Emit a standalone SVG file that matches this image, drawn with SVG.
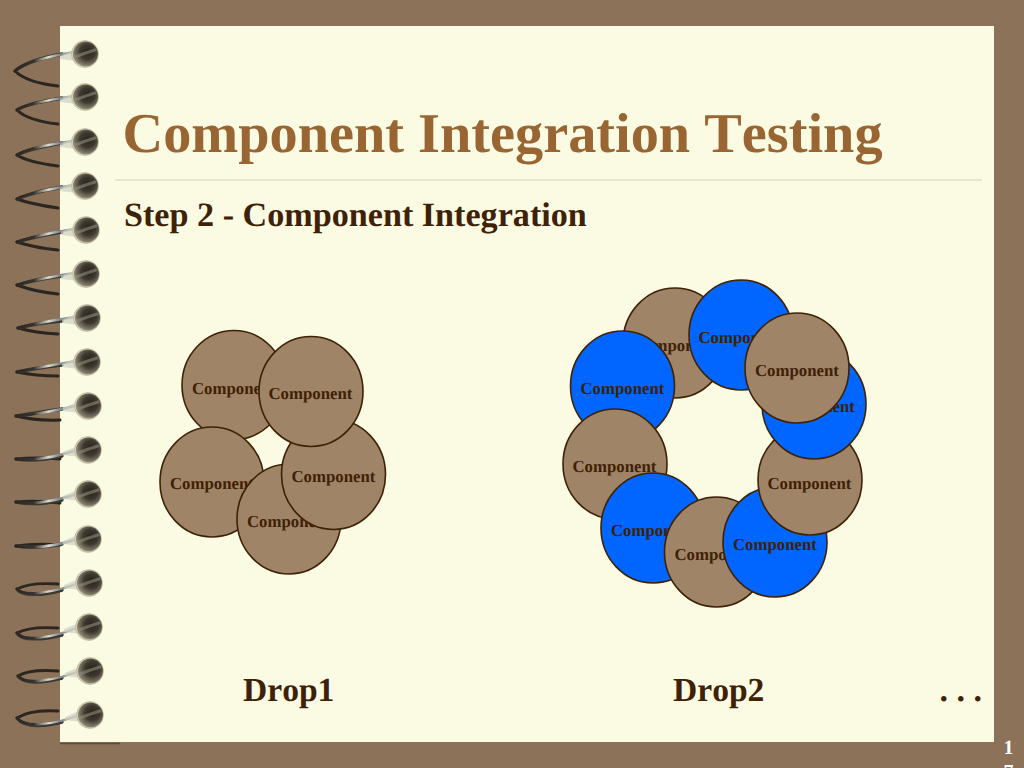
<svg xmlns="http://www.w3.org/2000/svg" xmlns:xlink="http://www.w3.org/1999/xlink" width="1024" height="768" viewBox="0 0 1024 768">
<style>
text{font-family:"Liberation Serif","Times New Roman",serif;font-weight:bold;fill:#3f2206;font-kerning:none;text-rendering:geometricPrecision}
.c{font-size:16.8px}
.h{font-size:33.6px}
.b{fill:#a08468;stroke:#3f2206;stroke-width:1.6}
.u{fill:#0066ff;stroke:#3f2206;stroke-width:1.6}
.back{fill:none;stroke:#2c2621;stroke-width:3;stroke-linecap:round}
.under{fill:none;stroke:#3d3730;stroke-width:3.4;stroke-linecap:round}
.front{fill:none;stroke:url(#wire);stroke-width:2.4;stroke-linecap:round}
</style>
<defs>
<filter id="soft" x="-5%" y="-5%" width="110%" height="110%"><feGaussianBlur stdDeviation=".6"/></filter>
<linearGradient id="wire" gradientUnits="userSpaceOnUse" x1="15" y1="0" x2="82" y2="0">
<stop offset="0" stop-color="#2b2622"/><stop offset=".28" stop-color="#35332f"/><stop offset=".5" stop-color="#dedcd0"/><stop offset=".66" stop-color="#7f8a90"/><stop offset="1" stop-color="#c4c4b4"/>
</linearGradient>
<radialGradient id="ball" cx=".58" cy=".42" r=".65">
<stop offset="0" stop-color="#29241d"/><stop offset=".45" stop-color="#3c372e"/><stop offset=".8" stop-color="#7c7665"/><stop offset="1" stop-color="#a8a38c"/>
</radialGradient>
<g id="bead">
<path d="M-8-5L-25 2L-25 5L-8 7Z" fill="#cfd0c2" opacity=".7"/>
<circle r="13.500" fill="#d6d2b8" stroke="#b3ae92" stroke-width=".6"/>
<circle r="12.500" cx=".5" fill="url(#ball)"/>
<path d="M-10 3Q0-1 10-4" fill="none" stroke="#8f8c79" stroke-width="3" stroke-linecap="round" opacity=".6"/>
</g>
</defs>
<rect width="1024" height="768" fill="#8b7258"/>
<rect x="60" y="26" width="934" height="716" fill="#fbfbe4"/>
<path d="M60 743.500H120" stroke="#5f4c38" stroke-width="1.500" fill="none"/>
<path d="M115 180H982" stroke="#d3d1bd" stroke-width="1" fill="none"/>

<g id="spiral" filter="url(#soft)">
<path class="back" d="M58 86C40 84 24 80 15 71"/><path class="under" d="M15 71C24 63 40 58 62 54"/><path class="front" d="M15 71C22 63 50 56 80 51"/><use xlink:href="#bead" x="85" y="54"/>
<path class="back" d="M58 124C40 122 24 117 17 110"/><path class="under" d="M17 110C26 104 40 102 62 98"/><path class="front" d="M17 110C24 104 50 100 80 95"/><use xlink:href="#bead" x="85" y="97"/>
<path class="back" d="M58 166C42 164 26 161 17 155"/><path class="under" d="M17 155C26 150 40 147 62 143"/><path class="front" d="M17 155C26 149 50 144 80 140"/><use xlink:href="#bead" x="85" y="142"/>
<path class="back" d="M58 208C44 206 28 203 17 199"/><path class="under" d="M17 199C28 194 40 191 62 187"/><path class="front" d="M17 199C28 193 50 189 80 184"/><use xlink:href="#bead" x="85" y="186"/>
<path class="back" d="M58 250Q36 248 17 242"/><path class="under" d="M17 242Q36 236 62 232"/><path class="front" d="M17 242Q40 234 81 228"/><use xlink:href="#bead" x="86" y="230"/>
<path class="back" d="M58 294Q36 292 17 285"/><path class="under" d="M17 285Q36 279 62 276"/><path class="front" d="M17 285Q40 278 81 272"/><use xlink:href="#bead" x="86" y="274"/>
<path class="back" d="M58 334Q36 333 18 328"/><path class="under" d="M18 328Q36 323 62 321"/><path class="front" d="M18 328Q40 322 82 316"/><use xlink:href="#bead" x="87" y="318"/>
<path class="back" d="M58 376Q36 376 17 372"/><path class="under" d="M17 372Q36 368 62 365"/><path class="front" d="M17 372Q40 367 82 360"/><use xlink:href="#bead" x="87" y="362"/>
<path class="back" d="M60 420Q36 421 16 416"/><path class="under" d="M16 416Q36 413 62 409"/><path class="front" d="M16 416Q44 414 83 404"/><use xlink:href="#bead" x="88" y="406"/>
<path class="back" d="M60 459Q36 457 16 459"/><path class="under" d="M16 459Q36 462 62 456"/><path class="front" d="M16 459Q44 462 83 448"/><use xlink:href="#bead" x="88" y="450"/>
<path class="back" d="M60 503Q36 500 16 502"/><path class="under" d="M16 502Q36 506 62 500"/><path class="front" d="M16 502Q44 506 83 492"/><use xlink:href="#bead" x="88" y="494"/>
<path class="back" d="M60 545Q36 543 16 546"/><path class="under" d="M16 546Q36 549 62 544"/><path class="front" d="M16 546Q44 551 83 537"/><use xlink:href="#bead" x="88" y="539"/>
<path class="back" d="M58 584C42 583 26 584 17 589"/><path class="under" d="M17 589C22 596 42 596 62 590"/><path class="front" d="M17 589C22 596 50 595 84 581"/><use xlink:href="#bead" x="89" y="583"/>
<path class="back" d="M58 628C42 627 26 628 17 633"/><path class="under" d="M17 633C22 641 42 640 62 635"/><path class="front" d="M17 633C22 641 50 640 84 625"/><use xlink:href="#bead" x="89" y="627"/>
<path class="back" d="M58 671C42 670 26 671 18 676"/><path class="under" d="M18 676C24 684 42 683 62 678"/><path class="front" d="M18 676C24 684 50 683 85 669"/><use xlink:href="#bead" x="90" y="671"/>
<path class="back" d="M58 711C42 710 26 712 17 718"/><path class="under" d="M17 718C24 727 42 727 62 722"/><path class="front" d="M17 718C24 727 50 727 85 713"/><use xlink:href="#bead" x="90" y="715"/>
</g>

<text id="title" x="122.500" y="152" font-size="56.300" style="fill:#996633">Component Integration Testing</text>
<text id="subtitle" x="124" y="226" font-size="34.150">Step 2 - Component Integration</text>

<g id="drop1">
<g id="d1-a"><ellipse class="b" cx="234" cy="385" rx="52" ry="54.500"/><text class="c" x="192" y="394">Component</text></g>
<g id="d1-e"><ellipse class="b" cx="212" cy="482" rx="52" ry="55"/><text class="c" x="170" y="489">Component</text></g>
<g id="d1-d"><ellipse class="b" cx="289" cy="519" rx="52" ry="55"/><text class="c" x="247" y="527">Component</text></g>
<g id="d1-c"><ellipse class="b" cx="333.500" cy="474.500" rx="52" ry="55"/><text class="c" x="291.500" y="482">Component</text></g>
<g id="d1-b"><ellipse class="b" cx="311" cy="391.500" rx="52" ry="55"/><text class="c" x="268.500" y="399">Component</text></g>
</g>

<g id="drop2">
<g id="d2-a"><ellipse class="b" cx="675" cy="343" rx="52" ry="55"/><text class="c" x="633" y="351">Component</text></g>
<g id="d2-b"><ellipse class="u" cx="622.500" cy="386" rx="52" ry="55"/><text class="c" x="580.500" y="394">Component</text></g>
<g id="d2-c"><ellipse class="b" cx="615" cy="464" rx="52" ry="55"/><text class="c" x="572.500" y="472">Component</text></g>
<g id="d2-d"><ellipse class="u" cx="653" cy="528" rx="52" ry="55"/><text class="c" x="611" y="536">Component</text></g>
<g id="d2-e"><ellipse class="b" cx="716.500" cy="552" rx="52" ry="55"/><text class="c" x="674.500" y="559.500">Component</text></g>
<g id="d2-f"><ellipse class="u" cx="775" cy="542" rx="52" ry="55"/><text class="c" x="733" y="549.500">Component</text></g>
<g id="d2-g"><ellipse class="b" cx="810" cy="480" rx="52" ry="55"/><text class="c" x="767.500" y="488.500">Component</text></g>
<g id="d2-h"><ellipse class="u" cx="814" cy="404" rx="52" ry="55"/><text class="c" x="771" y="412">Component</text></g>
<g id="d2-i"><ellipse class="u" cx="741" cy="335" rx="52" ry="55"/><text class="c" x="698.500" y="343">Component</text></g>
<g id="d2-j"><ellipse class="b" cx="797" cy="368" rx="52" ry="55"/><text class="c" x="755" y="376">Component</text></g>
</g>

<text class="h" x="243" y="701">Drop1</text>
<text class="h" x="673" y="701">Drop2</text>
<text class="h" x="939.500" y="701" style="font-size:34px">. . .</text>
<g id="page">
<text x="1003.500" y="754" style="fill:#fff;font-size:20px">1</text>
<text x="1003.500" y="778" style="fill:#fff;font-size:20px">7</text>
</g>
</svg>
